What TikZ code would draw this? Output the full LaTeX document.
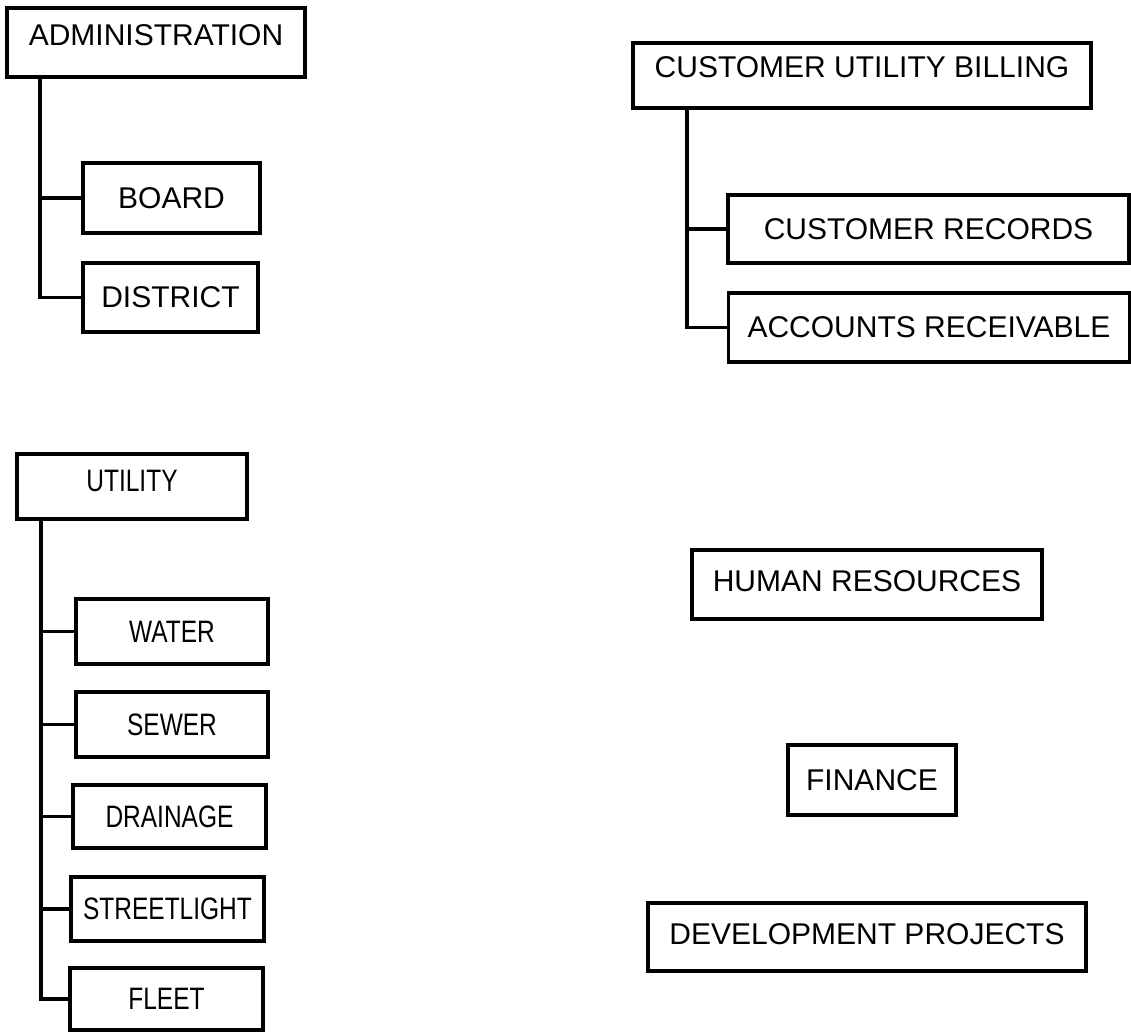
\documentclass[tikz,border=0pt]{standalone}
\usepackage{fontspec}
\setmainfont{Liberation Sans}
\newfontfamily\narrowfont[FakeStretch=0.79]{Liberation Sans}
\usetikzlibrary{positioning}

\begin{document}
\begin{tikzpicture}[x=0.5pt, y=-0.5pt,
    unit/.style={draw, line width=1.8pt, inner sep=0pt,
      font=\fontsize{15}{18}\selectfont},
    narrowunit/.style={unit, font=\narrowfont\fontsize{15.5}{18}\selectfont},
    link/.style={line width=1.8pt},
  ]
  \useasboundingbox (0,0) rectangle (1131,1032);

  % trunk lines
  \coordinate (adm) at (40,0);
  \coordinate (bill) at (687,0);
  \coordinate (util) at (41,0);

  % administration
  \node[unit, minimum width=149pt, minimum height=34.5pt, text depth=7pt] (admin) at (156,42.5) {ADMINISTRATION};
  \node[unit, minimum width=88.5pt, minimum height=35pt] (board) at (171.5,198) {BOARD};
  \node[unit, minimum width=87.5pt, minimum height=34.5pt] (district) at (170.5,297.5) {DISTRICT};

  % customer utility billing
  \node[unit, minimum width=229pt, minimum height=32.5pt, text depth=8pt] (billing) at (862,75.5) {CUSTOMER UTILITY BILLING};
  \node[unit, minimum width=200.5pt, minimum height=34pt] (records) at (928.5,229) {CUSTOMER RECORDS};
  \node[unit, minimum width=200.5pt, minimum height=34.5pt] (receivable) at (929,327.5) {ACCOUNTS RECEIVABLE};

  % utility
  \node[narrowunit, minimum width=115pt, minimum height=32.5pt, text depth=6pt] (utility) at (132,486.5) {UTILITY};
  \node[narrowunit, minimum width=96pt, minimum height=32.5pt] (water) at (172,631.5) {WATER};
  \node[narrowunit, minimum width=96pt, minimum height=32.5pt] (sewer) at (172,724.5) {SEWER};
  \node[narrowunit, minimum width=96.5pt, minimum height=31.5pt] (drainage) at (169.5,816.5) {DRAINAGE};
  \node[narrowunit, minimum width=96.5pt, minimum height=32pt] (streetlight) at (167.5,909) {STREETLIGHT};
  \node[narrowunit, minimum width=96.5pt, minimum height=31pt] (fleet) at (166.5,999) {FLEET};

  % stand-alone units
  \node[unit, minimum width=175pt, minimum height=34.5pt, text depth=3pt] (hr) at (867,584.5) {HUMAN RESOURCES};
  \node[unit, minimum width=84pt, minimum height=35pt] (finance) at (872,780) {FINANCE};
  \node[unit, minimum width=219pt, minimum height=34pt, text depth=3pt] (devel) at (867,937) {DEVELOPMENT PROJECTS};

  \draw[link] (admin.south -| adm) |- (district.west);
  \draw[link] (board.west -| adm) -- (board.west);

  \draw[link] (billing.south -| bill) |- (receivable.west);
  \draw[link] (records.west -| bill) -- (records.west);

  \draw[link] (utility.south -| util) |- (fleet.west);
  \foreach \n in {water, sewer, drainage, streetlight}
    \draw[link] (\n.west -| util) -- (\n.west);
\end{tikzpicture}
\end{document}
